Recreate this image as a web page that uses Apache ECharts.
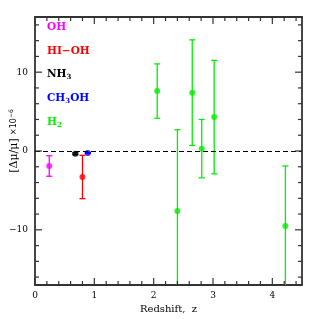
<!DOCTYPE html>
<html><head><meta charset="utf-8">
<script src="https://cdn.jsdelivr.net/npm/echarts@6/dist/echarts.min.js"></script>
<style>html,body{margin:0;padding:0;background:#fff}#c{width:319px;height:319px}</style>
</head><body><div id="c"></div>
<script>
// species: redshift, value, error
const ohZ = [0.24], ohV = [-1.9], ohE = [1.3];
const hiohZ = [0.80], hiohV = [-3.3], hiohE = [2.75];
const nh3Z = [0.68], nh3V = [-0.35], nh3E = [0.12];
const ch3ohZ = [0.89], ch3ohV = [-0.25], ch3ohE = [0.05];
const h2Z = [2.06, 2.40, 2.65, 2.81, 3.02, 4.22];
const h2V = [7.6, -7.6, 7.4, 0.3, 4.3, -9.5];
const h2E = [3.45, 10.3, 6.7, 3.7, 7.2, 7.6];
// legend labels as rich text: {n|..} normal, {s|..} subscript
const legendLabels = ['{n|OH}', '{n|HI\u2212OH}', '{n|NH}{s|3}', '{n|CH}{s|3}{n|OH}', '{n|H}{s|2}'];
const yTitle = '{a|[\u0394\u03bc/\u03bc]} {b|\u00d710}{c|\u22126}';
const xTitle = 'Redshift,  z';
const xMajor = [0, 1, 2, 3, 4];
const xMinor = [0.2,0.4,0.6,0.8,1.2,1.4,1.6,1.8,2.2,2.4,2.6,2.8,3.2,3.4,3.6,3.8,4.2,4.4];
const yMajor = [-10, 0, 10];
const yMinor = [-16,-14,-12,-8,-6,-4,-2,2,4,6,8,12,14,16];

const colors = ['#ff00ff', '#ff0000', '#000000', '#0000ff', '#00ee00'];
const groups = [
  [ohZ, ohV, ohE], [hiohZ, hiohV, hiohE], [nh3Z, nh3V, nh3E],
  [ch3ohZ, ch3ohV, ch3ohE], [h2Z, h2V, h2E]
];

const XMIN = 0, XMAX = 4.5, YMIN = -17, YMAX = 17;
const axCol = '#333';
const MAJ = 7, MIN = 4;
function xAx(pos, labels) {
  return {
    type: 'value', min: XMIN, max: XMAX, position: pos,
    axisLine: {show: true, onZero: false, lineStyle: {color: axCol, width: 1.8}},
    axisTick: {show: false},
    axisLabel: labels ? {show: true, customValues: xMajor, margin: 6, color: '#000', fontFamily: 'DejaVu Serif', fontSize: 9} : {show: false},
    splitLine: {show: false}
  };
}
function yAx(pos, labels) {
  return {
    type: 'value', min: YMIN, max: YMAX, position: pos,
    axisLine: {show: true, onZero: false, lineStyle: {color: axCol, width: 1.8}},
    axisTick: {show: false},
    axisLabel: labels ? {show: true, customValues: yMajor, margin: 7, color: '#000', fontFamily: 'DejaVu Serif', fontSize: 9,
      formatter: v => (v < 0 ? '\u2212' + (-v) : '' + v)} : {show: false},
    splitLine: {show: false}
  };
}
const xAxes = [xAx('bottom', true), xAx('top', false)];
xAxes[0].name = xTitle;
xAxes[0].nameLocation = 'middle';
xAxes[0].nameGap = 17;
xAxes[0].nameTextStyle = {fontFamily: 'DejaVu Serif', fontSize: 10, color: '#000'};
const yAxes = [yAx('left', true), yAx('right', false)];

const series = [];
// tick marks drawn through the axis scales
function tickSeries(values, len, isX) {
  return {
    type: 'custom', clip: false, z: 5, silent: true,
    data: values.map(v => [v, len]),
    renderItem: function (params, api) {
      const v = api.value(0), L = api.value(1);
      const st = {stroke: axCol, lineWidth: 1.2};
      if (isX) {
        const b = api.coord([v, YMIN]), t = api.coord([v, YMAX]);
        return {type: 'group', children: [
          {type: 'line', shape: {x1: b[0], y1: b[1], x2: b[0], y2: b[1] - L}, style: st},
          {type: 'line', shape: {x1: t[0], y1: t[1], x2: t[0], y2: t[1] + L}, style: st}
        ]};
      }
      const l = api.coord([XMIN, v]), r = api.coord([XMAX, v]);
      return {type: 'group', children: [
        {type: 'line', shape: {x1: l[0], y1: l[1], x2: l[0] + L, y2: l[1]}, style: st},
        {type: 'line', shape: {x1: r[0], y1: r[1], x2: r[0] - L, y2: r[1]}, style: st}
      ]};
    }
  };
}
series.push(tickSeries(xMajor, MAJ, true), tickSeries(xMinor, MIN, true),
            tickSeries(yMajor, MAJ, false), tickSeries(yMinor, MIN, false));

groups.forEach((g, i) => {
  const data = g[0].map((z, k) => [z, g[1][k], g[2][k]]);
  series.push({
    type: 'custom', clip: true, z: 2,
    renderItem: function (params, api) {
      const x = api.value(0), y = api.value(1), e = api.value(2);
      const top = api.coord([x, y + e]), bot = api.coord([x, y - e]);
      const w = 3;
      const st = {stroke: colors[i], lineWidth: 1.3};
      return {type: 'group', children: [
        {type: 'line', shape: {x1: top[0], y1: top[1], x2: bot[0], y2: bot[1]}, style: st},
        {type: 'line', shape: {x1: top[0] - w, y1: top[1], x2: top[0] + w, y2: top[1]}, style: st},
        {type: 'line', shape: {x1: bot[0] - w, y1: bot[1], x2: bot[0] + w, y2: bot[1]}, style: st}
      ]};
    },
    encode: {x: 0, y: 1},
    data: data
  });
  series.push({
    type: 'scatter', symbol: 'circle', symbolSize: 6, z: 3,
    itemStyle: {color: colors[i]},
    data: data.map(d => [d[0], d[1]])
  });
});
series.push({
  type: 'line', data: [], z: 1,
  markLine: {silent: true, symbol: 'none', label: {show: false},
    lineStyle: {color: '#000', type: [5, 3], width: 1},
    data: [{yAxis: 0}]}
});

const legendY = [29, 53, 76, 100, 124];
const graphics = legendLabels.map((t, i) => ({
  type: 'text', left: 47, top: legendY[i] - 7,
  style: {text: t, rich: {
    n: {fill: colors[i], font: 'bold 10.5px "DejaVu Serif"'},
    s: {fill: colors[i], font: 'bold 7px "DejaVu Serif"', padding: [6, 0, 0, 0]}
  }}
}));
graphics.push({
  type: 'text', x: 14, y: 141, rotation: Math.PI / 2,
  style: {text: yTitle, align: 'center', verticalAlign: 'middle', rich: {
    a: {fontFamily: 'DejaVu Serif', fontSize: 11, fill: '#000'},
    b: {fontFamily: 'DejaVu Sans', fontSize: 8, fill: '#000'},
    c: {fontFamily: 'DejaVu Sans', fontSize: 6, fill: '#000', verticalAlign: 'top', padding: [0, 0, 6, 0]}
  }}
});

const chart = echarts.init(document.getElementById('c'));
chart.setOption({
  animation: false,
  grid: {left: 35, top: 17, right: 17, bottom: 34, outerBoundsMode: 'none', containLabel: false},
  xAxis: xAxes, yAxis: yAxes,
  series: series,
  graphic: graphics
});
</script></body></html>
